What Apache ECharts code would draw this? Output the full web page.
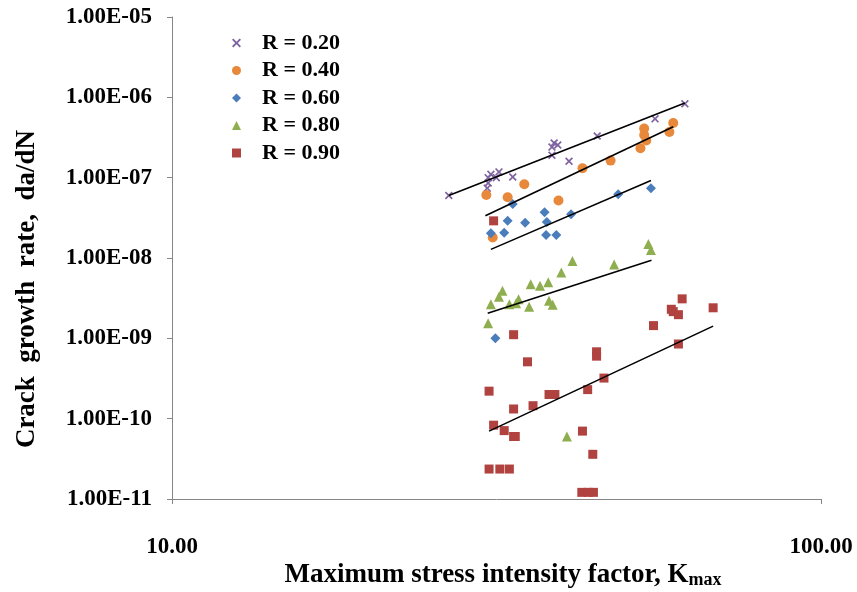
<!DOCTYPE html>
<html>
<head>
<meta charset="utf-8">
<script src="https://cdn.jsdelivr.net/npm/echarts@6/dist/echarts.min.js"></script>
<style>
  html, body { margin: 0; padding: 0; background: #fff; }
  #chart { width: 857px; height: 592px; }
</style>
</head>
<body>
<div id="chart"></div>
<script>
// data: K_max and da/dN for each R ratio
var seriesNames = ['R = 0.20', 'R = 0.40', 'R = 0.60', 'R = 0.80', 'R = 0.90'];

var kR20  = [26.7, 30.6, 30.7, 30.7, 31.0, 31.6, 31.9, 33.5, 38.5, 38.5, 38.8, 39.3, 40.9, 45.2, 55.5, 61.7];
var daR20 = [6.0e-8, 7.4e-8, 8.6e-8, 1.0e-7, 1.1e-7, 1.0e-7, 1.18e-7, 1.02e-7, 1.9e-7, 2.4e-7, 2.7e-7, 2.55e-7, 1.6e-7, 3.3e-7, 5.4e-7, 8.3e-7];

var kR40  = [30.5, 31.2, 32.9, 34.9, 39.4, 42.9, 47.4, 52.7, 53.4, 53.4, 53.8, 58.4, 59.2];
var daR40 = [6.1e-8, 1.8e-8, 5.7e-8, 8.3e-8, 5.2e-8, 1.31e-7, 1.63e-7, 2.32e-7, 4.1e-7, 3.4e-7, 2.9e-7, 3.7e-7, 4.8e-7];

var kR60  = [33.5, 37.5, 37.8, 32.9, 35.0, 31.0, 32.5, 37.7, 39.1, 41.2, 48.7, 54.7, 31.5];
var daR60 = [4.7e-8, 3.7e-8, 2.8e-8, 2.9e-8, 2.75e-8, 2.03e-8, 2.06e-8, 1.93e-8, 1.93e-8, 3.5e-8, 6.2e-8, 7.4e-8, 1.0e-9];

var kR80  = [54.2, 54.7, 41.4, 48.0, 39.8, 35.7, 36.9, 38.0, 32.3, 31.9, 31.0, 33.1, 34.2, 33.9, 35.5, 38.1, 38.6, 30.7, 40.6];
var daR80 = [1.49e-8, 1.26e-8, 9.2e-9, 8.3e-9, 6.6e-9, 4.7e-9, 4.5e-9, 5.0e-9, 3.9e-9, 3.3e-9, 2.65e-9, 2.65e-9, 3.06e-9, 2.73e-9, 2.47e-9, 2.94e-9, 2.62e-9, 1.54e-9, 6.0e-11];

var kR90  = [61.1, 68.2, 58.8, 60.3, 59.2, 55.2, 33.6, 45.1, 45.1, 35.3, 30.8, 46.3, 43.7, 38.1, 38.9, 33.6, 36.0, 31.3, 60.3, 32.5, 33.6, 33.8, 42.9, 44.5, 30.8, 32.0, 33.1, 42.8, 43.8, 44.6, 31.3];
var daR90 = [3.1e-9, 2.4e-9, 2.3e-9, 1.97e-9, 2.15e-9, 1.44e-9, 1.11e-9, 6.8e-10, 6.0e-10, 5.1e-10, 2.2e-10, 3.2e-10, 2.3e-10, 2.0e-10, 2.0e-10, 1.32e-10, 1.45e-10, 8.3e-11, 8.5e-10, 7.1e-11, 6.0e-11, 6.0e-11, 7.0e-11, 3.6e-11, 2.36e-11, 2.36e-11, 2.36e-11, 1.21e-11, 1.21e-11, 1.21e-11, 2.9e-8];

// power-law trend lines, end points
var trendK20  = [26.7, 61.7],  trendDa20 = [6.0e-8, 8.5e-7];
var trendK40  = [30.4, 59.2],  trendDa40 = [3.36e-8, 4.3e-7];
var trendK60  = [31.0, 54.7],  trendDa60 = [1.28e-8, 9.2e-8];
var trendK80  = [30.65, 54.8], trendDa80 = [2.05e-9, 9.4e-9];
var trendK90  = [30.8, 68.2],  trendDa90 = [7.0e-11, 1.42e-9];

var colors = ['#7F63A1', '#E8883A', '#4A7DBA', '#8FAE4F', '#B0433F'];
var symbols = [
    'path://M0,1.5L1.5,0L5,3.5L8.5,0L10,1.5L6.5,5L10,8.5L8.5,10L5,6.5L1.5,10L0,8.5L3.5,5Z',
    'circle', 'diamond', 'triangle', 'rect'
];
var sizes = [8, 10, 10, 10, 9];

function pairs(xs, ys) {
    return xs.map(function(x, i) { return [x, ys[i]]; });
}

var pointSets = [pairs(kR20, daR20), pairs(kR40, daR40), pairs(kR60, daR60), pairs(kR80, daR80), pairs(kR90, daR90)];
var trendSets = [pairs(trendK20, trendDa20), pairs(trendK40, trendDa40), pairs(trendK60, trendDa60), pairs(trendK80, trendDa80), pairs(trendK90, trendDa90)];

var FONT = '"Liberation Serif", "Times New Roman", serif';

var series = [];
pointSets.forEach(function(d, i) {
    series.push({
        name: seriesNames[i],
        type: 'scatter',
        data: d,
        symbol: symbols[i],
        symbolSize: sizes[i],
        itemStyle: { color: colors[i], opacity: 1 },
        z: 2
    });
});
trendSets.forEach(function(d) {
    series.push({
        type: 'line',
        data: d,
        symbol: 'none',
        silent: true,
        lineStyle: { color: '#000', width: 1.6 },
        z: 3
    });
});

var chart = echarts.init(document.getElementById('chart'));
chart.setOption({
    animation: false,
    backgroundColor: '#fff',
    grid: { left: 172, right: 36, top: 17, bottom: 93 },
    legend: {
        data: seriesNames,
        orient: 'vertical',
        left: 227,
        top: 27,
        itemWidth: 9,
        itemHeight: 9,
        itemGap: 5.5,
        textStyle: {
            fontFamily: FONT, fontWeight: 'bold', fontSize: 22, color: '#000',
            lineHeight: 22, padding: [0, 0, 0, 16]
        }
    },
    xAxis: {
        type: 'log',
        logBase: 10,
        min: 10,
        max: 100,
        axisLine: { lineStyle: { color: '#868686' } },
        axisTick: { show: true, length: 5, lineStyle: { color: '#868686' } },
        minorTick: { show: false },
        splitLine: { show: false },
        axisLabel: {
            margin: 37,
            fontFamily: FONT, fontWeight: 'bold', fontSize: 23, color: '#000',
            formatter: function(v) { return v.toFixed(2); }
        }
    },
    yAxis: {
        type: 'log',
        logBase: 10,
        min: 1e-11,
        max: 1e-5,
        splitNumber: 6,
        axisLine: { show: true, lineStyle: { color: '#868686' } },
        axisTick: { show: true, length: 5, lineStyle: { color: '#868686' } },
        splitLine: { show: false },
        axisLabel: {
            margin: 20,
            fontFamily: FONT, fontWeight: 'bold', fontSize: 23, color: '#000',
            formatter: function(v) {
                var e = Math.round(Math.log10(v));
                return '1.00E' + (e < 0 ? '-' : '+') + String(Math.abs(e)).padStart(2, '0');
            }
        }
    },
    graphic: [
        {
            type: 'text',
            x: 27, y: 289,
            rotation: Math.PI / 2,
            style: {
                text: 'Crack  growth  rate,  da/dN',
                font: 'bold 27px ' + FONT,
                fill: '#000',
                textAlign: 'center',
                textVerticalAlign: 'middle'
            }
        },
        {
            type: 'text',
            x: 503, y: 575,
            style: {
                text: '{t|Maximum stress intensity factor, K}{s|max}',
                textAlign: 'center',
                textVerticalAlign: 'middle',
                rich: {
                    t: { font: 'bold 27px ' + FONT, fill: '#000', verticalAlign: 'bottom' },
                    s: { font: 'bold 18px ' + FONT, fill: '#000', padding: [10, 0, 0, 0], verticalAlign: 'bottom' }
                }
            }
        }
    ],
    series: series
});
</script>
</body>
</html>
